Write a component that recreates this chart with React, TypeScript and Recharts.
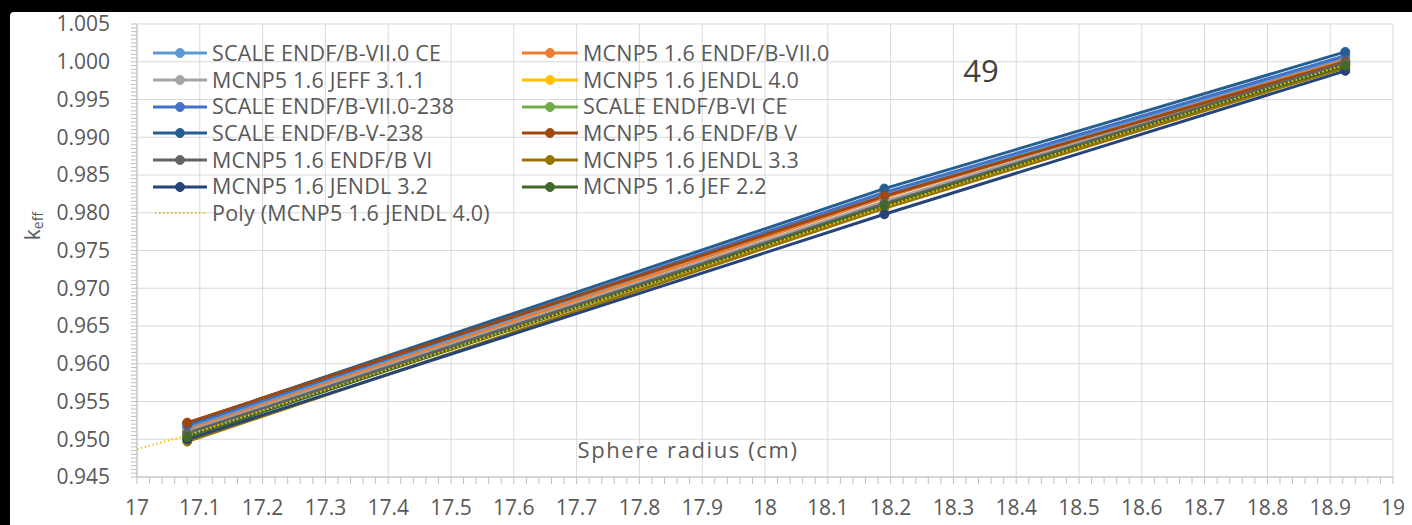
import React from 'react';
import { LineChart, Line, XAxis, YAxis, CartesianGrid, Legend } from 'recharts';

const FONT = '"Open Sans", sans-serif';
const TEXT = '#595959';

// sphere radii (cm) of the three configurations
const radii = [17.08, 18.19, 18.924];

// k-eff values per library
const scaleVII0CE = [0.9515, 0.9824, 1.0005];
const mcnpVII0 = [0.9512, 0.982, 1.0002];
const mcnpJEFF311 = [0.951, 0.9815, 1.0];
const mcnpJENDL40 = [0.9505, 0.9808, 0.9996];
const scaleVII0238 = [0.9518, 0.9827, 1.0008];
const scaleVICE = [0.9506, 0.981, 0.9997];
const scaleV238 = [0.9521, 0.9832, 1.0013];
const mcnpENDFBV = [0.9522, 0.9822, 1.0];
const mcnpENDFBVI = [0.9508, 0.9812, 0.9998];
const mcnpJENDL33 = [0.9497, 0.9806, 0.9992];
const mcnpJENDL32 = [0.95, 0.9798, 0.9988];
const mcnpJEF22 = [0.9503, 0.981, 0.9995];

// polynomial trendline of MCNP5 1.6 JENDL 4.0
const trendX = [17.0, 17.08, 18.19, 18.924];
const trendY = [0.9487, 0.9505, 0.9808, 0.9996];

const seriesNames = [
  'SCALE ENDF/B-VII.0 CE',
  'MCNP5 1.6 ENDF/B-VII.0',
  'MCNP5 1.6 JEFF 3.1.1',
  'MCNP5 1.6 JENDL 4.0',
  'SCALE ENDF/B-VII.0-238',
  'SCALE ENDF/B-VI CE',
  'SCALE ENDF/B-V-238',
  'MCNP5 1.6 ENDF/B V',
  'MCNP5 1.6 ENDF/B VI',
  'MCNP5 1.6 JENDL 3.3',
  'MCNP5 1.6 JENDL 3.2',
  'MCNP5 1.6 JEF 2.2',
];
const seriesColors = [
  '#5B9BD5', '#ED7D31', '#A5A5A5', '#FFC000', '#4472C4', '#70AD47',
  '#255E91', '#9E480E', '#636363', '#997300', '#264478', '#43682B',
];
const seriesValues = [
  scaleVII0CE, mcnpVII0, mcnpJEFF311, mcnpJENDL40, scaleVII0238, scaleVICE,
  scaleV238, mcnpENDFBV, mcnpENDFBVI, mcnpJENDL33, mcnpJENDL32, mcnpJEF22,
];
const trendName = 'Poly (MCNP5 1.6 JENDL 4.0)';
const trendColor = '#FFC000';

const xMinorTicks = Array.from({ length: 101 }, (_, i) => Number((17 + i * 0.02).toFixed(2)));
const xMajorTicks = Array.from({ length: 21 }, (_, i) => Number((17 + i * 0.1).toFixed(1)));
const yMinorTicks = Array.from({ length: 121 }, (_, i) => Number((0.945 + i * 0.0005).toFixed(4)));
const yMajorTicks = Array.from({ length: 13 }, (_, i) => Number((0.945 + i * 0.005).toFixed(3)));

const allX = Array.from(new Set([...trendX, ...radii])).sort((a, b) => a - b);
const rows = allX.map((x) => {
  const row: Record<string, number | undefined> = { x };
  seriesValues.forEach((vals, s) => {
    const i = radii.indexOf(x);
    row['s' + s] = i >= 0 ? vals[i] : undefined;
  });
  const t = trendX.indexOf(x);
  row.trend = t >= 0 ? trendY[t] : undefined;
  return row;
});

const isMajor = (v: number, step: number) => Math.abs(v / step - Math.round(v / step)) < 1e-6;

const XTick = (props: any) => {
  const { x, y, payload } = props;
  const v = payload.value as number;
  if (!isMajor(v, 0.1)) return <g />;
  return (
    <text x={x} y={y} dy="0.71em" textAnchor="middle" fill={TEXT} fontSize={21} fontFamily={FONT}>
      {String(Number(v.toFixed(1)))}
    </text>
  );
};

const YTick = (props: any) => {
  const { x, y, payload } = props;
  const v = payload.value as number;
  if (!isMajor(v, 0.005)) return <g />;
  return (
    <text x={x} y={y} dy="0.355em" textAnchor="end" fill={TEXT} fontSize={21} fontFamily={FONT}>
      {v.toFixed(3)}
    </text>
  );
};

const LegendItem = ({ name, color, dotted, sampleW }: any) => (
  <div style={{ display: 'flex', alignItems: 'center', height: 26.7, whiteSpace: 'nowrap' }}>
    <svg width={sampleW} height={14} style={{ flex: 'none' }}>
      {dotted ? (
        <line x1={2} y1={7} x2={sampleW - 2} y2={7} stroke={color} strokeWidth={2} strokeDasharray="1.5 2.5" />
      ) : (
        <>
          <line x1={0} y1={7} x2={sampleW} y2={7} stroke={color} strokeWidth={3} />
          <circle cx={sampleW / 2} cy={7} r={4.5} fill={color} stroke={color} />
        </>
      )}
    </svg>
    <span style={{ marginLeft: 5, color: TEXT, fontSize: 21.5, fontFamily: FONT, lineHeight: '26.7px', letterSpacing: 0.2 }}>{name}</span>
  </div>
);

const renderLegend = () => {
  const left = seriesNames.map((n, i) => i).filter((i) => i % 2 === 0);
  const right = seriesNames.map((n, i) => i).filter((i) => i % 2 === 1);
  return (
    <div style={{ display: 'flex' }}>
      <div style={{ width: 369 }}>
        {left.map((i) => (
          <LegendItem key={i} name={seriesNames[i]} color={seriesColors[i]} sampleW={54} />
        ))}
        <LegendItem name={trendName} color={trendColor} dotted sampleW={54} />
      </div>
      <div>
        {right.map((i) => (
          <LegendItem key={i} name={seriesNames[i]} color={seriesColors[i]} sampleW={56} />
        ))}
      </div>
    </div>
  );
};

const YLabel = () => (
  <text
    x={32}
    y={226}
    transform="rotate(-90, 32, 226)"
    textAnchor="middle"
    dominantBaseline="central"
    fill={TEXT}
    fontSize={21}
    fontFamily={FONT}
  >
    k<tspan fontSize={14} dy={5}>eff</tspan>
  </text>
);

export default function App() {
  return (
    <div style={{ position: 'absolute', left: 0, top: 0, width: 1412, height: 525, background: '#000', overflow: 'hidden' }}>
      <div style={{ position: 'absolute', left: 10, top: 12, width: 1402, height: 513, background: '#fff', borderTopLeftRadius: 4 }} />
      <div style={{ position: 'absolute', left: 0, top: 0 }}>
        <LineChart width={1412} height={525} data={rows} margin={{ top: 24, right: 19, bottom: 0, left: 0 }}>
          <CartesianGrid stroke="#D9D9D9" strokeWidth={1} horizontalValues={yMajorTicks} verticalValues={xMajorTicks} />
          <XAxis
            type="number"
            dataKey="x"
            domain={[17, 19]}
            ticks={xMinorTicks}
            interval={0}
            allowDataOverflow
            height={48}
            tickSize={7}
            tickMargin={16}
            axisLine={{ stroke: '#BFBFBF' }}
            tickLine={{ stroke: '#BFBFBF' }}
            tick={<XTick />}
          />
          <YAxis
            type="number"
            domain={[0.945, 1.005]}
            ticks={yMinorTicks}
            interval={0}
            allowDataOverflow
            width={137}
            tickSize={6}
            tickMargin={21}
            axisLine={{ stroke: '#BFBFBF' }}
            tickLine={{ stroke: '#BFBFBF' }}
            tick={<YTick />}
            label={{ content: () => <YLabel /> }}
          />
          <Legend
            content={renderLegend}
            layout="horizontal"
            verticalAlign="middle"
            align="center"
            wrapperStyle={{ left: 153, top: 40, width: 780, height: 190 }}
          />
          {seriesNames.map((n, s) => (
            <Line
              key={n}
              name={n}
              type="linear"
              dataKey={'s' + s}
              stroke={seriesColors[s]}
              strokeWidth={3}
              dot={{ r: 4.5, fill: seriesColors[s], stroke: seriesColors[s], strokeWidth: 1 }}
              activeDot={false}
              isAnimationActive={false}
            />
          ))}
          <Line
            name={trendName}
            type="linear"
            dataKey="trend"
            stroke={trendColor}
            strokeWidth={2}
            strokeDasharray="1.5 2.5"
            dot={false}
            activeDot={false}
            isAnimationActive={false}
          />
        </LineChart>
      </div>
      <div style={{ position: 'absolute', left: 688, top: 449, transform: 'translate(-50%, -50%)', color: TEXT, fontSize: 22, fontFamily: FONT, letterSpacing: 1.6, whiteSpace: 'nowrap' }}>
        Sphere radius (cm)
      </div>
      <div style={{ position: 'absolute', left: 981, top: 70, transform: 'translate(-50%, -50%)', color: '#404040', fontSize: 31, fontFamily: FONT, whiteSpace: 'nowrap' }}>
        49
      </div>
    </div>
  );
}
